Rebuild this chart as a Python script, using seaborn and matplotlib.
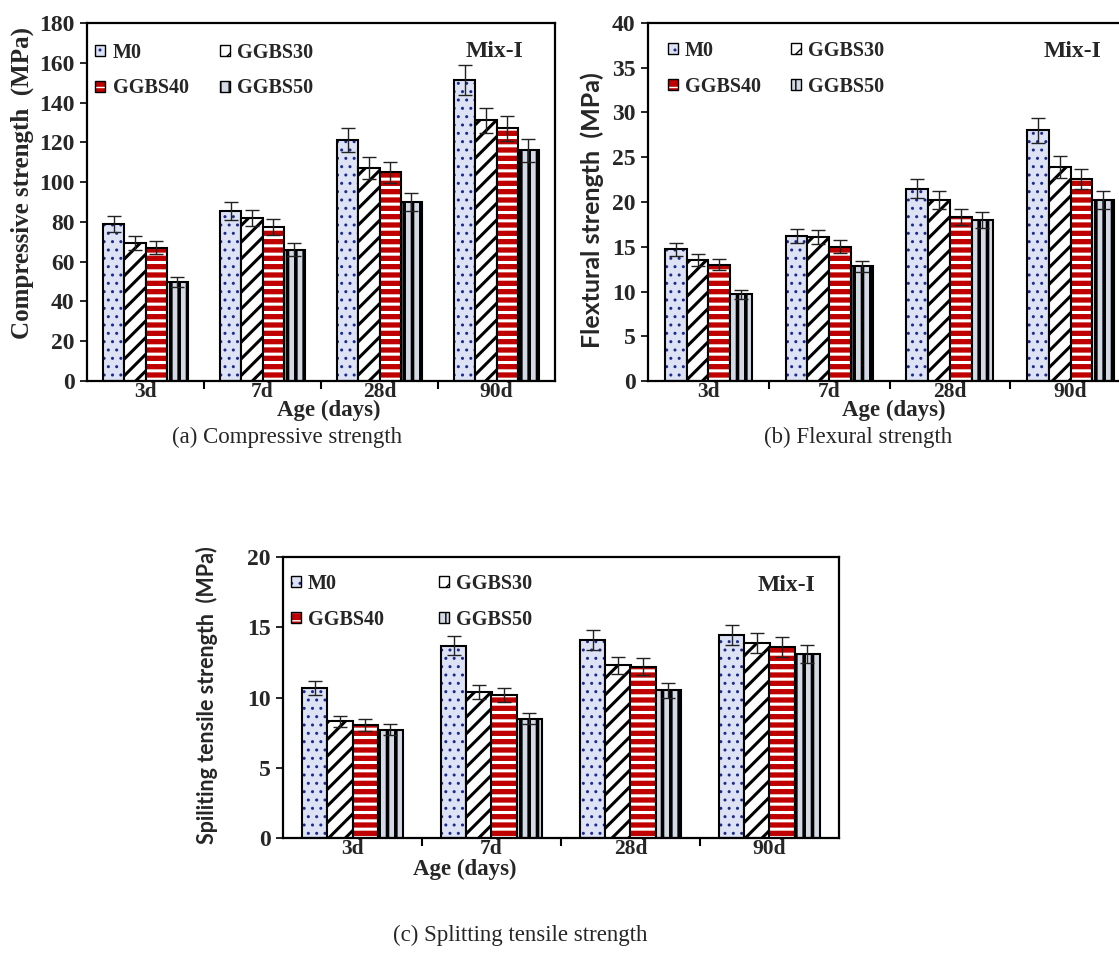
import numpy as np
import pandas as pd
import matplotlib
matplotlib.use("Agg")
import matplotlib.pyplot as plt
import matplotlib.patches as mpatches
import seaborn as sns

# ---------------- data ----------------
ages = ["3d", "7d", "28d", "90d"]
mixes = ["M0", "GGBS30", "GGBS40", "GGBS50"]

comp_m0 = [79.0, 85.5, 121.0, 151.5]
comp_g30 = [69.5, 82.0, 107.0, 131.0]
comp_g40 = [67.0, 77.5, 105.0, 127.0]
comp_g50 = [50.0, 66.0, 90.0, 116.0]
comp_err_m0 = [4.0, 4.3, 6.0, 7.5]
comp_err_g30 = [3.5, 4.0, 5.5, 6.5]
comp_err_g40 = [3.3, 3.9, 5.2, 6.3]
comp_err_g50 = [2.5, 3.3, 4.5, 5.8]

flex_m0 = [14.7, 16.2, 21.5, 28.0]
flex_g30 = [13.5, 16.1, 20.2, 23.9]
flex_g40 = [13.0, 15.0, 18.3, 22.6]
flex_g50 = [9.7, 12.8, 18.0, 20.2]
flex_err_m0 = [0.7, 0.8, 1.1, 1.4]
flex_err_g30 = [0.7, 0.8, 1.0, 1.2]
flex_err_g40 = [0.65, 0.75, 0.9, 1.1]
flex_err_g50 = [0.5, 0.65, 0.9, 1.0]

split_m0 = [10.7, 13.7, 14.1, 14.45]
split_g30 = [8.3, 10.4, 12.3, 13.9]
split_g40 = [8.05, 10.2, 12.2, 13.6]
split_g50 = [7.7, 8.5, 10.5, 13.1]
split_err_m0 = [0.5, 0.7, 0.7, 0.7]
split_err_g30 = [0.4, 0.5, 0.6, 0.7]
split_err_g40 = [0.4, 0.5, 0.6, 0.7]
split_err_g50 = [0.4, 0.4, 0.5, 0.65]

# ---------------- styling ----------------
sns.set_style("ticks")
SERIF = ["Liberation Serif", "DejaVu Serif"]
SANS = ["Lato", "DejaVu Sans"]
plt.rcParams["font.family"] = SERIF

STYLE = {
    "M0": dict(face="#dde3f5", hatch="..", hcolor="#1c2a8c", hlw=1.0),
    "GGBS30": dict(face="#ffffff", hatch="//", hcolor="#000000", hlw=2.2),
    "GGBS40": dict(face="#c00000", hatch="--", hcolor="#ffffff", hlw=2.2),
    "GGBS50": dict(face="#d3dae6", hatch="||", hcolor="#000000", hlw=2.6),
}


def apply_pattern(patch, mix):
    st = STYLE[mix]
    patch.set_facecolor(st["face"])
    patch.set_edgecolor("black")
    patch.set_hatch(st["hatch"])
    patch._hatch_color = matplotlib.colors.to_rgba(st["hcolor"])
    if hasattr(patch, "set_hatch_linewidth"):
        patch.set_hatch_linewidth(st["hlw"])
    else:
        patch._hatch_linewidth = st["hlw"]


def draw_panel(ax, series, errors, ymax, ystep, ylabel, ylabel_family,
               ylabel_size, ylabel_xy, xlabel_xy, leg_anchor, leg_colsp,
               mix_xy):
    df = pd.DataFrame({
        "Age": np.tile(ages, len(mixes)),
        "Mix": np.repeat(mixes, len(ages)),
        "Strength": np.concatenate([series[m] for m in mixes]),
    })
    sns.barplot(data=df, x="Age", y="Strength", hue="Mix", order=ages,
                hue_order=mixes, palette=[STYLE[m]["face"] for m in mixes],
                width=0.72, errorbar=None, saturation=1, edgecolor="black",
                linewidth=1.5, legend=False, ax=ax)
    conts = list(ax.containers)[:len(mixes)]
    for mix, cont in zip(mixes, conts):
        for bar in cont:
            apply_pattern(bar, mix)
        xs = [b.get_x() + b.get_width() / 2 for b in cont]
        ys = [b.get_height() for b in cont]
        ax.errorbar(xs, ys, yerr=errors[mix], fmt="none", ecolor="#222222",
                    elinewidth=1.0, capsize=5, capthick=1.0, zorder=5)

    ax.set_xlim(-0.5, 3.5)
    ax.set_ylim(0, ymax)
    ax.set_yticks(np.arange(0, ymax + ystep / 2, ystep))
    ax.set_xticks(range(len(ages)))
    ax.set_xticklabels(ages)
    ax.set_xticks([0.5, 1.5, 2.5], minor=True)
    ax.tick_params(axis="x", which="major", length=0, pad=1)
    ax.tick_params(axis="x", which="minor", length=6, width=1.5,
                   direction="out", color="black")
    ax.tick_params(axis="y", length=5, width=1.2, direction="out", pad=4,
                   color="black")
    for lab in ax.get_xticklabels():
        lab.set_fontfamily(SERIF)
        lab.set_fontweight("bold")
        lab.set_fontsize(15.5)
    for lab in ax.get_yticklabels():
        lab.set_fontfamily(SERIF)
        lab.set_fontweight("bold")
        lab.set_fontsize(17)
    for sp in ax.spines.values():
        sp.set_visible(True)
        sp.set_color("black")
        sp.set_linewidth(1.6)

    ax.set_ylabel(ylabel, family=ylabel_family, fontsize=ylabel_size,
                  fontweight="bold")
    ax.yaxis.set_label_coords(*ylabel_xy)
    ax.yaxis.label.set_va("center")
    ax.set_xlabel("Age (days)", family=SERIF, fontsize=16.5, fontweight="bold")
    ax.xaxis.set_label_coords(*xlabel_xy)
    ax.xaxis.label.set_va("center")

    handles = {}
    for m in mixes:
        h = mpatches.Patch(linewidth=1.0, label=m)
        apply_pattern(h, m)
        handles[m] = h
    order = ["M0", "GGBS40", "GGBS30", "GGBS50"]
    ax.legend([handles[m] for m in order], order, ncol=2, frameon=False,
              loc="upper left", bbox_to_anchor=leg_anchor, borderaxespad=0,
              borderpad=0, handlelength=0.5, handleheight=0.5,
              handletextpad=0.35, columnspacing=leg_colsp, labelspacing=0.78,
              prop=dict(family=SERIF, weight="bold", size=14.5))
    ax.text(mix_xy[0], mix_xy[1], "Mix-I", transform=ax.transAxes,
            ha="center", va="center", family=SERIF, fontweight="bold",
            fontsize=17)


fig = plt.figure(figsize=(11.19, 9.57), dpi=100)
W, H = 1119.0, 957.0


def axes_px(left, top, right, bottom):
    return fig.add_axes([left / W, 1 - bottom / H, (right - left) / W,
                         (bottom - top) / H])


ax_a = axes_px(87, 23, 555, 381)
ax_b = axes_px(648, 23, 1131, 381)
ax_c = axes_px(283, 557, 839, 838)

draw_panel(ax_a,
           {"M0": comp_m0, "GGBS30": comp_g30, "GGBS40": comp_g40, "GGBS50": comp_g50},
           {"M0": comp_err_m0, "GGBS30": comp_err_g30, "GGBS40": comp_err_g40, "GGBS50": comp_err_g50},
           180, 20, "Compressive strength  (MPa)", SERIF, 18,
           (-0.139, 0.553), (0.517, -0.083), (0.018, 0.945), 1.55, (0.87, 0.919))

draw_panel(ax_b,
           {"M0": flex_m0, "GGBS30": flex_g30, "GGBS40": flex_g40, "GGBS50": flex_g50},
           {"M0": flex_err_m0, "GGBS30": flex_err_g30, "GGBS40": flex_err_g40, "GGBS50": flex_err_g50},
           40, 5, "Flextural strength  (MPa)", SANS, 18,
           (-0.116, 0.478), (0.509, -0.083), (0.041, 0.95), 1.5, (0.878, 0.919))

draw_panel(ax_c,
           {"M0": split_m0, "GGBS30": split_g30, "GGBS40": split_g40, "GGBS50": split_g50},
           {"M0": split_err_m0, "GGBS30": split_err_g30, "GGBS40": split_err_g40, "GGBS50": split_err_g50},
           20, 5, "Spiliting tensile strength  (MPa)", SANS, 15.5,
           (-0.137, 0.509), (0.326, -0.113), (0.014, 0.94), 2.75, (0.905, 0.9))

fig.text(287 / W, 1 - 437 / H, "(a) Compressive strength", ha="center",
         va="center", family=SERIF, fontsize=16.5)
fig.text(858 / W, 1 - 437 / H, "(b) Flexural strength", ha="center",
         va="center", family=SERIF, fontsize=16.5)
fig.text(520 / W, 1 - 935 / H, "(c) Splitting tensile strength", ha="center",
         va="center", family=SERIF, fontsize=16.5)

fig.savefig("out.png", dpi=100)
